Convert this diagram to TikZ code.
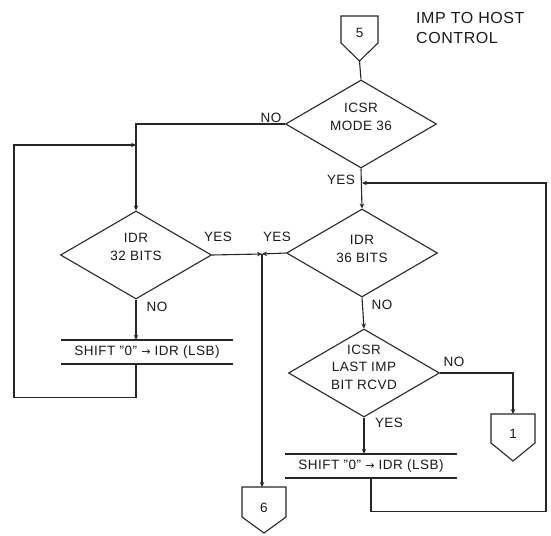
\documentclass[tikz,border=0pt]{standalone}
\usepackage{fontspec}
\setmainfont[LetterSpace=3.5]{Liberation Sans}
\newfontfamily\arrowfont{DejaVu Sans}
\newcommand{\rarr}{{\arrowfont\fontsize{11}{11}\selectfont →}}
\usetikzlibrary{shapes.geometric,arrows.meta}
\begin{document}
\begin{tikzpicture}[x=1pt,y=-1pt,
  every node/.style={font=\fontsize{13.5}{17.5}\selectfont,text=black!90},
  ln/.style={line width=1.1pt,draw=black!85},
  arr/.style={ln,-{Stealth[length=5pt,width=4.5pt]}},
  dia/.style={draw=black!85,line width=1.1pt,diamond,inner sep=0pt,minimum width=151pt,minimum height=88pt},
  lbl/.style={inner sep=0pt},
  dtext/.style={inner sep=0pt,align=center},
  shiftbox/.style={inner sep=0pt,minimum width=171pt,minimum height=24pt},
  sline/.style={line width=1.7pt,draw=black!85},
  title/.style={inner sep=0pt,align=left,font=\fontsize{16}{20}\selectfont}]
\useasboundingbox (0,0) rectangle (551,535);

% title
\node[title,anchor=north west] (title) at (416,12) {IMP TO HOST\\CONTROL};

% off-page connector 5
\draw[ln] (341,16) -- (378,16) -- (378,43) -- (359.5,61) -- (341,43) -- cycle;
\node[lbl] (c5) at (359.5,33) {5};
\coordinate (c5b) at (359.5,61);

% decisions
\node[dia] (d1) at (361,124) {};
\node[dtext] (t1) at (361,117) {ICSR\\MODE 36};
\node[dia] (d2) at (136,255) {};
\node[dtext] (t2) at (136,247) {IDR\\32 BITS};
\node[dia] (d3) at (362,253) {};
\node[dtext] (t3) at (362,249) {IDR\\36 BITS};
\node[dia] (d4) at (364,373) {};
\node[dtext] (t4) at (364,367) {ICSR\\LAST IMP\\BIT RCVD};

% shift boxes
\node[shiftbox] (s1) at (147,352) {SHIFT "0" \rarr{} IDR (LSB)};
\draw[sline] (s1.north west) -- (s1.north east);
\draw[sline] (s1.south west) -- (s1.south east);
\node[shiftbox] (s2) at (371,466) {SHIFT "0" \rarr{} IDR (LSB)};
\draw[sline] (s2.north west) -- (s2.north east);
\draw[sline] (s2.south west) -- (s2.south east);

% off-page connector 1
\draw[ln] (491,414) -- (535,414) -- (535,443) -- (513,461) -- (491,443) -- cycle;
\node[lbl] (c1) at (513,434) {1};
\coordinate (c1t) at (513,414);

% off-page connector 6
\draw[ln] (242,487) -- (286,487) -- (286,517) -- (264,533) -- (242,517) -- cycle;
\node[lbl] (c6) at (264,508) {6};
\coordinate (c6t) at (264,487);

% junction points
\coordinate (jL) at (136,145);
\coordinate (jY) at (262,254);
\coordinate (jR) at (362,183);

% labels
\node[lbl] (no1) at (271,118) {NO};
\node[lbl] (yes1) at (341,180) {YES};
\node[lbl] (yes2) at (218,237) {YES};
\node[lbl] (no2) at (157,307) {NO};
\node[lbl] (yes3) at (277,237) {YES};
\node[lbl] (no3) at (382,305) {NO};
\node[lbl] (no4) at (454,362) {NO};
\node[lbl] (yes4) at (389,423) {YES};

% connectors
\draw[ln] (c5b) -- (d1.north);
\draw[arr] (d1.west) -- (d1.west -| d2.north) -- (d2.north);
\draw[arr] (s1.south -| d2.south) -- ++(0,33) -- ++(-122,0) |- (jL);
\draw[arr] (d2.south) -- (d2.south |- s1.north);
\draw[arr] (d2.east) -- (jY);
\draw[arr] (d3.west) -- (jY);
\draw[arr] (jY) -- (jY |- c6t);
\draw[arr] (d1.south) -- (d3.north);
\draw[arr] (d3.south) -- (d4.north);
\draw[arr] (d4.east) -| (c1t);
\draw[arr] (d4.south) -- (d4.south |- s2.north);
\draw[arr] (s2.south) -- ++(0,33) -| (546,183) -- (jR);
\end{tikzpicture}
\end{document}
